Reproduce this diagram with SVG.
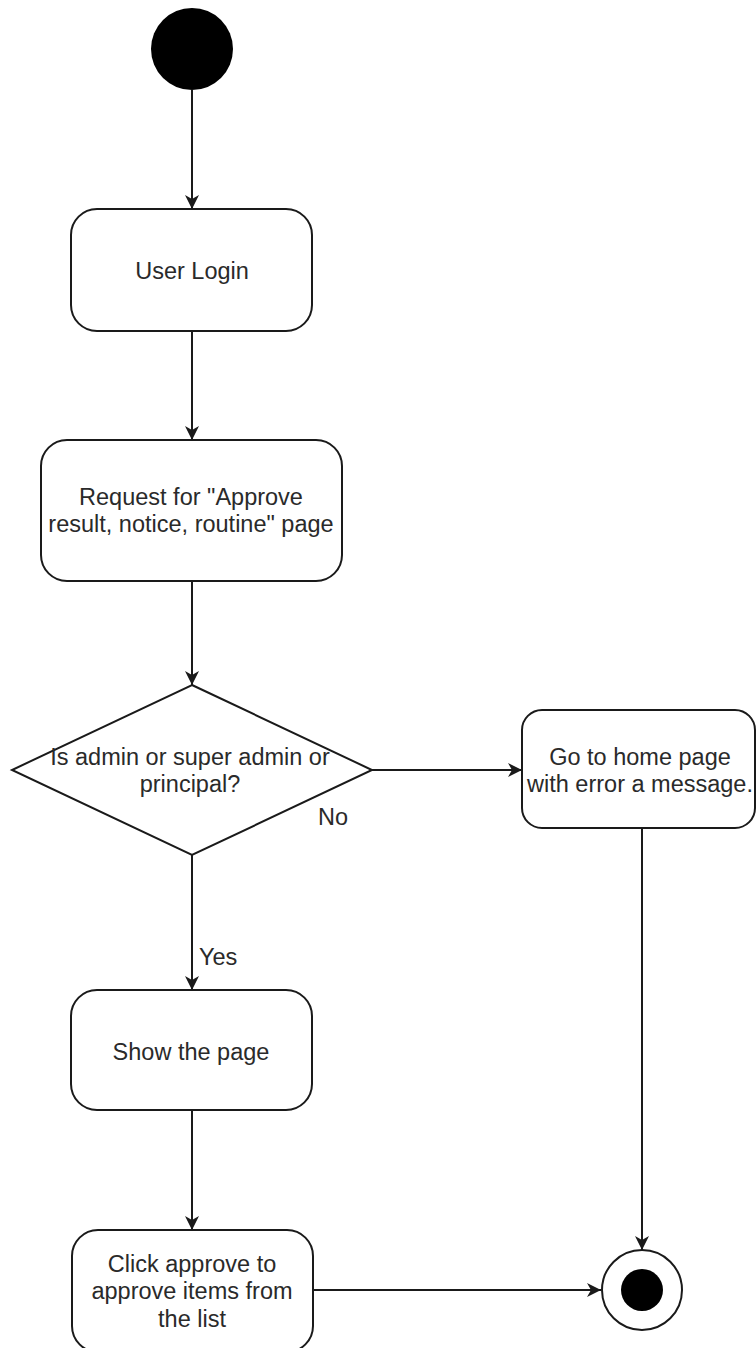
<svg xmlns="http://www.w3.org/2000/svg" width="756" height="1348" viewBox="0 0 756 1348">
<defs>
<style>
.box{fill:#fff;stroke:#1a1a1a;stroke-width:2}
.edge{fill:none;stroke:#1a1a1a;stroke-width:2}
.t{font-family:"Liberation Sans",Arial,Helvetica,sans-serif;font-size:23.5px;fill:#2a2a2a;text-anchor:middle}
.lbl{font-family:"Liberation Sans",Arial,Helvetica,sans-serif;font-size:23.5px;fill:#2a2a2a}
</style>
<marker id="arr" markerUnits="userSpaceOnUse" markerWidth="16" markerHeight="16" viewBox="0 0 16 16" refX="15" refY="8" orient="auto">
<path d="M1,1 L15,8 L1,15 L5,8 z" fill="#1a1a1a"/>
</marker>
</defs>
<rect width="756" height="1348" fill="#fff"/>
<g id="connectors">
<line class="edge" x1="192" y1="90" x2="192" y2="209" marker-end="url(#arr)"/>
<line class="edge" x1="192" y1="331" x2="192" y2="440" marker-end="url(#arr)"/>
<line class="edge" x1="192" y1="581" x2="192" y2="685" marker-end="url(#arr)"/>
<line class="edge" x1="372" y1="770" x2="522" y2="770" marker-end="url(#arr)"/>
<line class="edge" x1="192" y1="855" x2="192" y2="990" marker-end="url(#arr)"/>
<line class="edge" x1="192" y1="1110" x2="192" y2="1230" marker-end="url(#arr)"/>
<line class="edge" x1="642" y1="828" x2="642" y2="1250" marker-end="url(#arr)"/>
<line class="edge" x1="313" y1="1290" x2="601" y2="1290" marker-end="url(#arr)"/>
<text class="lbl" x="318" y="825">No</text>
<text class="lbl" x="199" y="965">Yes</text>
</g>
<g id="start">
<circle cx="192" cy="49" r="41" fill="#000"/>
</g>
<g id="userLogin">
<rect class="box" x="71" y="209" width="241" height="122" rx="26"/>
<text class="t" x="192" y="279">User Login</text>
</g>
<g id="request">
<rect class="box" x="41" y="440" width="301" height="141" rx="26"/>
<text class="t" x="191" y="505">Request for "Approve</text>
<text class="t" x="191" y="532">result, notice, routine" page</text>
</g>
<g id="decision">
<polygon class="box" points="192,685 372,770 192,855 12,770"/>
<text class="t" x="190" y="765">Is admin or super admin or</text>
<text class="t" x="190" y="792">principal?</text>
</g>
<g id="homeError">
<rect class="box" x="522" y="710" width="233" height="118" rx="20"/>
<text class="t" x="640" y="765">Go to home page</text>
<text class="t" x="640" y="792">with error a message.</text>
</g>
<g id="showPage">
<rect class="box" x="71" y="990" width="241" height="120" rx="26"/>
<text class="t" x="191" y="1060">Show the page</text>
</g>
<g id="clickApprove">
<rect class="box" x="72" y="1230" width="241" height="122" rx="26"/>
<text class="t" x="192" y="1272">Click approve to</text>
<text class="t" x="192" y="1299">approve items from</text>
<text class="t" x="192" y="1327">the list</text>
</g>
<g id="end">
<circle cx="642" cy="1290" r="40" fill="#fff" stroke="#1a1a1a" stroke-width="2"/>
<circle cx="642" cy="1290" r="21" fill="#000"/>
</g>
</svg>
